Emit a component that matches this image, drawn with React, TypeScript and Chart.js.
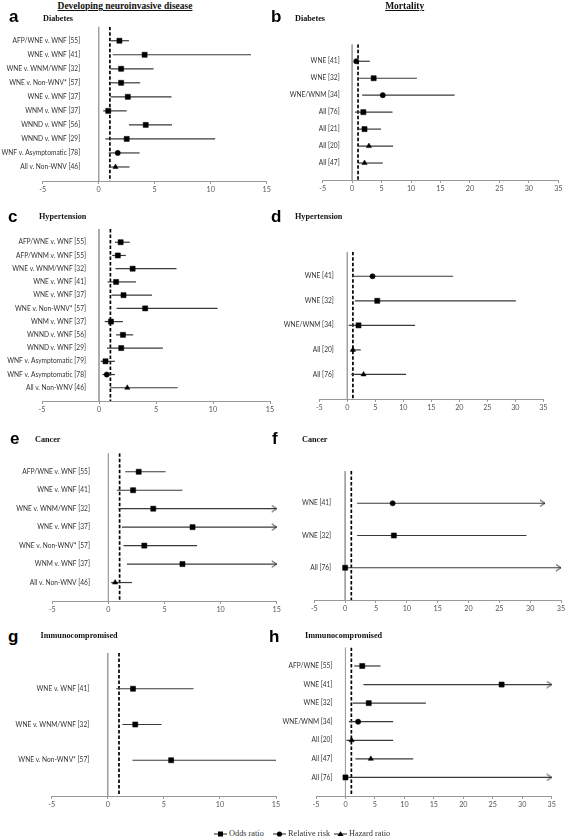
import React, { useEffect, useRef } from "react";
import { Chart, registerables } from "chart.js";

Chart.register(...registerables);

type Kind = "OR" | "RR" | "HR";

// ---------- Panel a: Developing neuroinvasive disease — Diabetes ----------
const aLabels = [
  "AFP/WNE v. WNF [55]",
  "WNE v. WNF [41]",
  "WNE v. WNM/WNF [32]",
  "WNE v. Non-WNV* [57]",
  "WNE v. WNF [37]",
  "WNM v. WNF [37]",
  "WNND v. WNF [56]",
  "WNND v. WNF [29]",
  "WNF v. Asymptomatic [78]",
  "All v. Non-WNV [46]",
];
const aEst = [1.85, 4.1, 2.0, 2.0, 2.6, 0.85, 4.2, 2.5, 1.7, 1.5];
const aLow = [1.1, 1.25, 1.05, 1.05, 1.05, 0.4, 2.7, 0.6, 0.9, 0.9];
const aHigh = [2.7, 13.6, 4.9, 3.7, 6.5, 2.5, 6.55, 10.4, 3.65, 2.75];
const aKind: Kind[] = ["OR", "OR", "OR", "OR", "OR", "OR", "OR", "OR", "RR", "HR"];
const aArrow = [false, false, false, false, false, false, false, false, false, false];

// ---------- Panel b: Mortality — Diabetes ----------
const bLabels = ["WNE [41]", "WNE [32]", "WNE/WNM [34]", "All [76]", "All [21]", "All [20]", "All [47]"];
const bEst = [0.7, 3.65, 5.2, 1.9, 2.1, 2.85, 2.1];
const bLow = [0.3, 1.2, 1.7, 0.5, 1.05, 1.05, 1.05];
const bHigh = [3.0, 11.0, 17.4, 6.85, 4.9, 6.95, 5.2];
const bKind: Kind[] = ["RR", "OR", "RR", "OR", "OR", "HR", "HR"];
const bArrow = [false, false, false, false, false, false, false];

// ---------- Panel c: Developing neuroinvasive disease — Hypertension ----------
const cLabels = [
  "AFP/WNE v. WNF [55]",
  "AFP/WNM v. WNF [55]",
  "WNE v. WNM/WNF [32]",
  "WNE v. WNF [41]",
  "WNE v. WNF [37]",
  "WNE v. Non-WNV* [57]",
  "WNM v. WNF [37]",
  "WNND v. WNF [56]",
  "WNND v. WNF [29]",
  "WNF v. Asymptomatic [79]",
  "WNF v. Asymptomatic [78]",
  "All v. Non-WNV [46]",
];
const cEst = [1.9, 1.65, 2.95, 1.5, 2.15, 4.05, 1.05, 2.1, 1.95, 0.57, 0.68, 2.48];
const cLow = [1.4, 1.15, 1.45, 0.75, 1.1, 1.55, 0.5, 1.5, 0.7, 0.15, 0.3, 1.0];
const cHigh = [2.7, 2.35, 6.8, 3.25, 4.65, 10.4, 2.1, 3.0, 5.6, 1.4, 1.4, 6.9];
const cKind: Kind[] = ["OR", "OR", "OR", "OR", "OR", "OR", "OR", "OR", "OR", "OR", "RR", "HR"];
const cArrow = [false, false, false, false, false, false, false, false, false, false, false, false];

// ---------- Panel d: Mortality — Hypertension ----------
const dLabels = ["WNE [41]", "WNE [32]", "WNE/WNM [34]", "All [20]", "All [76]"];
const dEst = [4.5, 5.35, 2.0, 1.0, 2.9];
const dLow = [0.9, 1.35, 0.25, 0.6, 0.7];
const dHigh = [18.9, 30.1, 12.1, 2.4, 10.5];
const dKind: Kind[] = ["RR", "OR", "OR", "HR", "HR"];
const dArrow = [false, false, false, false, false];

// ---------- Panel e: Developing neuroinvasive disease — Cancer ----------
const eLabels = [
  "AFP/WNE v. WNF [55]",
  "WNE v. WNF [41]",
  "WNE v. WNM/WNF [32]",
  "WNE v. WNF [37]",
  "WNE v. Non-WNV* [57]",
  "WNM v. WNF [37]",
  "All v. Non-WNV [46]",
];
const eEst = [2.7, 2.2, 4.0, 7.5, 3.2, 6.6, 0.6];
const eLow = [1.5, 0.75, 0.9, 1.2, 1.35, 1.65, 0.25];
const eHigh = [5.1, 6.6, 15, 15, 7.9, 15, 2.1];
const eKind: Kind[] = ["OR", "OR", "OR", "OR", "OR", "OR", "HR"];
const eArrow = [false, false, true, true, false, true, false];

// ---------- Panel f: Mortality — Cancer ----------
const fLabels = ["WNE [41]", "WNE [32]", "All [76]"];
const fEst = [7.7, 7.9, 0];
const fLow = [1.95, 1.95, 0];
const fHigh = [32.4, 29.4, 35];
const fKind: Kind[] = ["RR", "OR", "OR"];
const fArrow = [true, false, true];

// ---------- Panel g: Developing neuroinvasive disease — Immunocompromised ----------
const gLabels = ["WNE v. WNF [41]", "WNE v. WNM/WNF [32]", "WNE v. Non-WNV* [57]"];
const gEst = [2.25, 2.45, 5.65];
const gLow = [0.75, 1.3, 2.2];
const gHigh = [7.65, 4.8, 15];
const gKind: Kind[] = ["OR", "OR", "OR"];
const gArrow = [false, false, false];

// ---------- Panel h: Mortality — Immunocompromised ----------
const hLabels = ["AFP/WNE [55]", "WNE [41]", "WNE [32]", "WNE/WNM [34]", "All [20]", "All [47]", "All [76]"];
const hEst = [2.85, 26.5, 3.95, 2.15, 1.05, 4.3, 0];
const hLow = [1.5, 3.05, 1.2, 0.6, 0.15, 1.7, 0];
const hHigh = [5.95, 35, 13.65, 8.1, 8.1, 11.5, 35];
const hKind: Kind[] = ["OR", "OR", "OR", "RR", "HR", "HR", "OR"];
const hArrow = [false, true, false, false, false, false, true];

const xTicksLeft = { min: -5, max: 15, step: 5 };
const xTicksRight = { min: -5, max: 35, step: 5 };
const refValue = 1;
const zeroValue = 0;

const legendNames = ["Odds ratio", "Relative risk", "Hazard ratio"];

const LABEL_FONT = "Lato, 'Open Sans', sans-serif";
const SERIF = "'Liberation Serif', 'Times New Roman', serif";
const SANS = "'Liberation Sans', Arial, sans-serif";

interface Spec {
  id: string;
  labels: string[];
  est: number[];
  low: number[];
  high: number[];
  kind: Kind[];
  arrow: boolean[];
  axis: { min: number; max: number; step: number };
  left: number;
  top: number;
  width: number;
  height: number;
  padL: number;
  padR: number;
  padT: number;
  gap: number;
}

const specs: Spec[] = [
  { id: "a", labels: aLabels, est: aEst, low: aLow, high: aHigh, kind: aKind, arrow: aArrow, axis: xTicksLeft,
    left: 0, top: 18, width: 283, height: 178.7, padL: 42.7, padR: 16.3, padT: 8.7, gap: 18.5 },
  { id: "b", labels: bLabels, est: bEst, low: bLow, high: bHigh, kind: bKind, arrow: bArrow, axis: xTicksRight,
    left: 270, top: 30, width: 297, height: 166, padL: 52.7, padR: 8.7, padT: 14.3, gap: 12.5 },
  { id: "c", labels: cLabels, est: cEst, low: cLow, high: cHigh, kind: cKind, arrow: cArrow, axis: xTicksLeft,
    left: 0, top: 222, width: 283, height: 194.7, padL: 42, padR: 13, padT: 7, gap: 13 },
  { id: "d", labels: dLabels, est: dEst, low: dLow, high: dHigh, kind: dKind, arrow: dArrow, axis: xTicksRight,
    left: 270, top: 240, width: 297, height: 175, padL: 49.3, padR: 23.7, padT: 11.7, gap: 13.5 },
  { id: "e", labels: eLabels, est: eEst, low: eLow, high: eHigh, kind: eKind, arrow: eArrow, axis: xTicksLeft,
    left: 0, top: 446, width: 283, height: 170.7, padL: 52.3, padR: 6.3, padT: 7.3, gap: 18.5 },
  { id: "f", labels: fLabels, est: fEst, low: fLow, high: fHigh, kind: fKind, arrow: fArrow, axis: xTicksRight,
    left: 270, top: 462, width: 297, height: 154, padL: 44.3, padR: 6, padT: 9, gap: 14 },
  { id: "g", labels: gLabels, est: gEst, low: gLow, high: gHigh, kind: gKind, arrow: gArrow, axis: xTicksLeft,
    left: 0, top: 646, width: 283, height: 165.7, padL: 51.7, padR: 7, padT: 7, gap: 18.5 },
  { id: "h", labels: hLabels, est: hEst, low: hLow, high: hHigh, kind: hKind, arrow: hArrow, axis: xTicksRight,
    left: 270, top: 641, width: 297, height: 170.8, padL: 46, padR: 15.3, padT: 6.4, gap: 13 },
];

function makeArrowImage(): HTMLCanvasElement {
  const c = document.createElement("canvas");
  c.width = 12;
  c.height = 8;
  const g = c.getContext("2d")!;
  g.strokeStyle = "#333";
  g.lineWidth = 1;
  g.beginPath();
  g.moveTo(1, 0.8);
  g.lineTo(6, 4);
  g.lineTo(1, 7.2);
  g.stroke();
  return c;
}

function Panel({ spec }: { spec: Spec }) {
  const ref = useRef<HTMLCanvasElement>(null);
  useEffect(() => {
    if (!ref.current) return;
    const n = spec.labels.length;
    const rows = spec.labels.map((_, i) => i + 1);
    const arrowImg = makeArrowImage();
    const pxPerUnit = (spec.width - spec.padL - spec.padR) / (spec.axis.max - spec.axis.min);
    const labelAnchor = zeroValue - spec.gap / pxPerUnit;

    const markerSet = (k: Kind, style: any, r: number) => ({
      label: k,
      data: rows.filter((r0) => spec.kind[r0 - 1] === k).map((r0) => ({ x: spec.est[r0 - 1], y: r0 })),
      showLine: false,
      pointStyle: style,
      pointRadius: r,
      pointHoverRadius: r,
      pointBackgroundColor: "#000",
      pointBorderColor: "#000",
      pointBorderWidth: 0.5,
      clip: false as any,
      order: 0,
    });

    const ciSets = rows.map((r0) => ({
      label: "ci" + r0,
      data: [
        { x: spec.low[r0 - 1], y: r0 },
        { x: spec.high[r0 - 1], y: r0 },
      ],
      borderColor: "#3a3a3a",
      borderWidth: 1.2,
      pointRadius: 0,
      pointHoverRadius: 0,
      clip: false as any,
      order: 2,
    }));

    const arrowSet = {
      label: "arrows",
      data: rows.filter((r0) => spec.arrow[r0 - 1]).map((r0) => ({ x: spec.high[r0 - 1], y: r0 })),
      showLine: false,
      pointStyle: arrowImg as any,
      pointRadius: 4,
      pointHoverRadius: 4,
      clip: false as any,
      order: 1,
    };

    const refSet = {
      label: "ref",
      data: [
        { x: refValue, y: 0 },
        { x: refValue, y: n + 1 },
      ],
      borderColor: "#000",
      borderWidth: 1.7,
      borderDash: [3.5, 2],
      pointRadius: 0,
      pointHoverRadius: 0,
      order: 3,
    };

    const zeroSet = {
      label: "zero",
      data: [
        { x: zeroValue, y: 0 },
        { x: zeroValue, y: n + 1 },
      ],
      borderColor: "#a0a0a0",
      borderWidth: 1,
      pointRadius: 0,
      pointHoverRadius: 0,
      order: 4,
    };

    const chart = new Chart(ref.current, {
      type: "line",
      data: {
        datasets: [
          markerSet("OR", "rect", 3.6),
          markerSet("RR", "circle", 2.6),
          markerSet("HR", "triangle", 3.0),
          arrowSet,
          ...ciSets,
          refSet,
          zeroSet,
        ] as any,
      },
      options: {
        animation: false,
        responsive: false,
        events: [],
        layout: { padding: { left: spec.padL, right: spec.padR, top: spec.padT, bottom: 0 } },
        plugins: { legend: { display: false }, tooltip: { enabled: false } },
        scales: {
          x: {
            type: "linear",
            position: "bottom",
            min: spec.axis.min,
            max: spec.axis.max,
            ticks: {
              stepSize: spec.axis.step,
              color: "#555",
              font: { family: LABEL_FONT, size: 7.2 },
              padding: 1,
              maxRotation: 0,
            },
            grid: { display: true, drawOnChartArea: false, drawTicks: true, tickLength: 3, color: "#999" },
            border: { display: true, color: "#999", width: 1 },
            afterFit: (s: any) => {
              s.height = 16;
            },
          },
          y: {
            type: "linear",
            position: { x: labelAnchor } as any,
            min: 0,
            max: n + 1,
            reverse: true,
            ticks: {
              stepSize: 1,
              autoSkip: false,
              padding: 0,
              color: "#333",
              font: { family: LABEL_FONT, size: 6.6 },
              callback: (v: any) => {
                const i = Math.round(Number(v));
                return i >= 1 && i <= n ? spec.labels[i - 1] : "";
              },
            },
            grid: { display: false, drawTicks: false },
            border: { display: false },
          },
        } as any,
      },
    });
    return () => chart.destroy();
  }, [spec]);

  return (
    <canvas
      ref={ref}
      width={spec.width}
      height={Math.round(spec.height)}
      style={{ position: "absolute", left: spec.left, top: spec.top }}
    />
  );
}

const letterStyle = (left: number, top: number): React.CSSProperties => ({
  position: "absolute",
  left,
  top,
  fontFamily: SANS,
  fontWeight: "bold",
  fontSize: 17,
  lineHeight: "17px",
  color: "#000",
});

const subStyle = (left: number, centerY: number, size = 8.2): React.CSSProperties => ({
  position: "absolute",
  left,
  top: centerY - size / 2,
  fontFamily: SERIF,
  fontWeight: "bold",
  fontSize: size,
  lineHeight: `${size}px`,
  whiteSpace: "nowrap",
  color: "#111",
});

const titleStyle = (centerX: number): React.CSSProperties => ({
  position: "absolute",
  left: centerX - 100,
  width: 200,
  top: 1,
  textAlign: "center",
  fontFamily: SERIF,
  fontWeight: "bold",
  fontSize: 9.5,
  lineHeight: "10px",
  textDecoration: "underline",
  whiteSpace: "nowrap",
  color: "#111",
});

function LegendItem({ x, kind, text }: { x: number; kind: Kind; text: string }) {
  let marker: React.ReactNode;
  if (kind === "OR") marker = <rect x={4} y={1.5} width={5} height={5} fill="#000" />;
  else if (kind === "RR") marker = <circle cx={6.5} cy={4} r={2.6} fill="#000" />;
  else marker = <polygon points="6.5,1.2 9.5,6 3.5,6" fill="#000" />;
  return (
    <div style={{ position: "absolute", left: x, top: 829, height: 10, whiteSpace: "nowrap" }}>
      <svg width={14} height={8} style={{ position: "absolute", left: 0, top: 1 }}>
        <line x1={0} y1={4} x2={13} y2={4} stroke="#222" strokeWidth={1} />
        {marker}
      </svg>
      <span
        style={{
          position: "absolute",
          left: 15,
          top: 0,
          fontFamily: SERIF,
          fontSize: 8.3,
          lineHeight: "10px",
          color: "#333",
        }}
      >
        {text}
      </span>
    </div>
  );
}

export default function App() {
  return (
    <div
      style={{
        position: "absolute",
        left: 0,
        top: 0,
        width: 567,
        height: 839,
        background: "#fff",
        overflow: "hidden",
      }}
    >
      {specs.map((s) => (
        <Panel key={s.id} spec={s} />
      ))}

      <div style={titleStyle(125)}>Developing neuroinvasive disease</div>
      <div style={titleStyle(404.7)}>Mortality</div>

      <div style={letterStyle(9, 8.3)}>a</div>
      <div style={letterStyle(271, 8.3)}>b</div>
      <div style={letterStyle(8, 208.3)}>c</div>
      <div style={letterStyle(271, 208.3)}>d</div>
      <div style={letterStyle(10, 429.6)}>e</div>
      <div style={letterStyle(272, 429.6)}>f</div>
      <div style={letterStyle(8, 627.6)}>g</div>
      <div style={letterStyle(269, 627.6)}>h</div>

      <div style={subStyle(43, 19.3)}>Diabetes</div>
      <div style={subStyle(295, 19.3)}>Diabetes</div>
      <div style={subStyle(39, 217.5)}>Hypertension</div>
      <div style={subStyle(295, 217.5)}>Hypertension</div>
      <div style={subStyle(35, 440)}>Cancer</div>
      <div style={subStyle(302, 440)}>Cancer</div>
      <div style={subStyle(40.5, 636)}>Immunocompromised</div>
      <div style={subStyle(305, 636)}>Immunocompromised</div>

      <LegendItem x={214} kind="OR" text={legendNames[0]} />
      <LegendItem x={273} kind="RR" text={legendNames[1]} />
      <LegendItem x={334} kind="HR" text={legendNames[2]} />
    </div>
  );
}
